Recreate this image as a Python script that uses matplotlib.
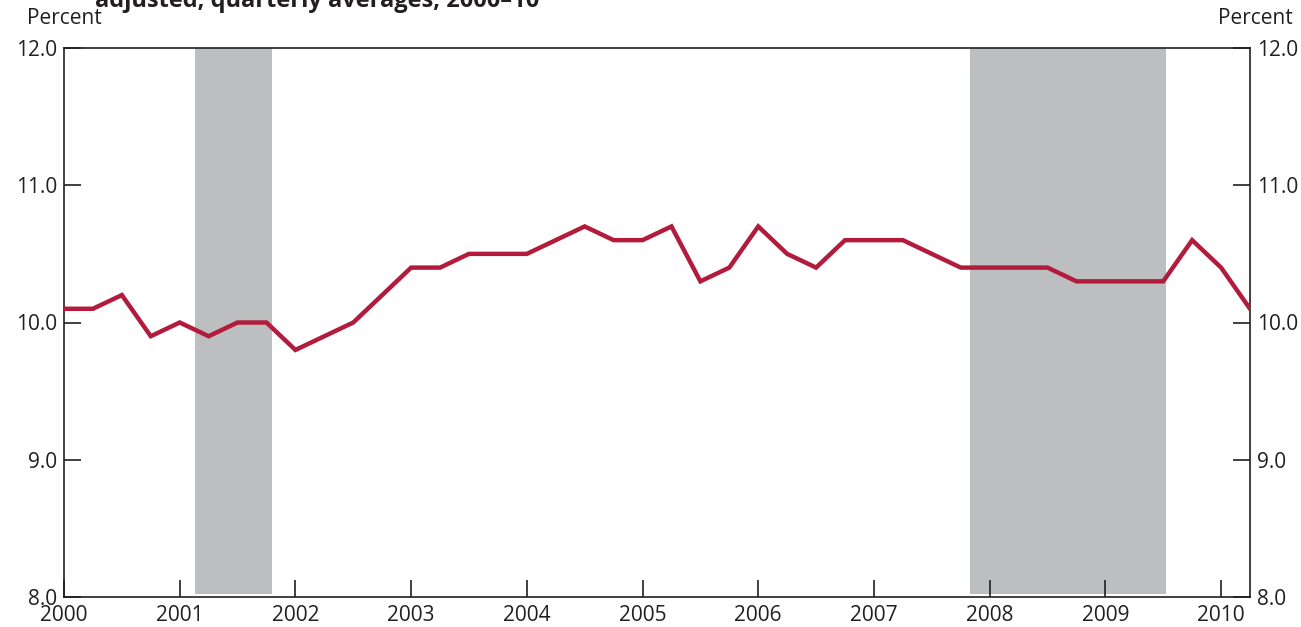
import matplotlib
matplotlib.use("Agg")
import matplotlib.pyplot as plt
import numpy as np

plt.rcParams["font.family"] = ["Open Sans", "DejaVu Sans"]

# quarterly values, 2000:Q1 .. 2010:Q2
quarters = np.arange(2000.0, 2010.26, 0.25)
percent = [
    10.1, 10.1, 10.2, 9.9,
    10.0, 9.9, 10.0, 10.0,
    9.8, 9.9, 10.0, 10.2,
    10.4, 10.4, 10.5, 10.5,
    10.5, 10.6, 10.7, 10.6,
    10.6, 10.7, 10.3, 10.4,
    10.7, 10.5, 10.4, 10.6,
    10.6, 10.6, 10.5, 10.4,
    10.4, 10.4, 10.4, 10.3,
    10.3, 10.3, 10.3, 10.6,
    10.4, 10.1,
]
recessions = [(2001.13, 2001.80), (2007.83, 2009.52)]
year_ticks = list(range(2000, 2011))
y_ticks = [8.0, 9.0, 10.0, 11.0, 12.0]

LINE = "#b31b3c"
SHADE = "#bcbec0"
INK = "#231f20"

fig = plt.figure(figsize=(13.01, 6.27), dpi=100)
ax = fig.add_axes([64 / 1301, 1 - 597 / 627, (1250 - 64) / 1301, (597 - 48) / 627])

for start, end in recessions:
    ax.axvspan(start, end, ymin=0.005, ymax=1.0, color=SHADE, lw=0, zorder=0)

ax.plot(quarters, percent, color=LINE, lw=3.2, solid_joinstyle="miter", zorder=3)

ax.set_xlim(2000.0, 2010.25)
ax.set_ylim(8.0, 12.0)
ax.set_xticks(year_ticks)
ax.set_xticklabels([str(y) for y in year_ticks])
ax.set_yticks(y_ticks)
ax.set_yticklabels([f"{v:.1f}" for v in y_ticks])

ax.tick_params(axis="x", direction="in", length=12, width=1.2, color=INK,
               labelsize=15, labelcolor=INK, pad=6)
ax.tick_params(axis="y", direction="in", length=12, width=1.2, color=INK,
               labelsize=15, labelcolor=INK, pad=5, left=True, right=True,
               labelleft=True, labelright=True)
for side in ("left", "right", "bottom", "top"):
    ax.spines[side].set_color(INK)
    ax.spines[side].set_linewidth(1.2)

fig.text(27 / 1301, 1 - 19 / 627, "Percent", fontsize=15, color=INK,
         ha="left", va="center")
fig.text(1293 / 1301, 1 - 19 / 627, "Percent", fontsize=15, color=INK,
         ha="right", va="center")
fig.text(95 / 1301, 1 - 7 / 627, "adjusted, quarterly averages, 2000\u201310",
         fontsize=17, fontweight="bold", color=INK, ha="left", va="baseline")

fig.savefig("out.png", dpi=100)
